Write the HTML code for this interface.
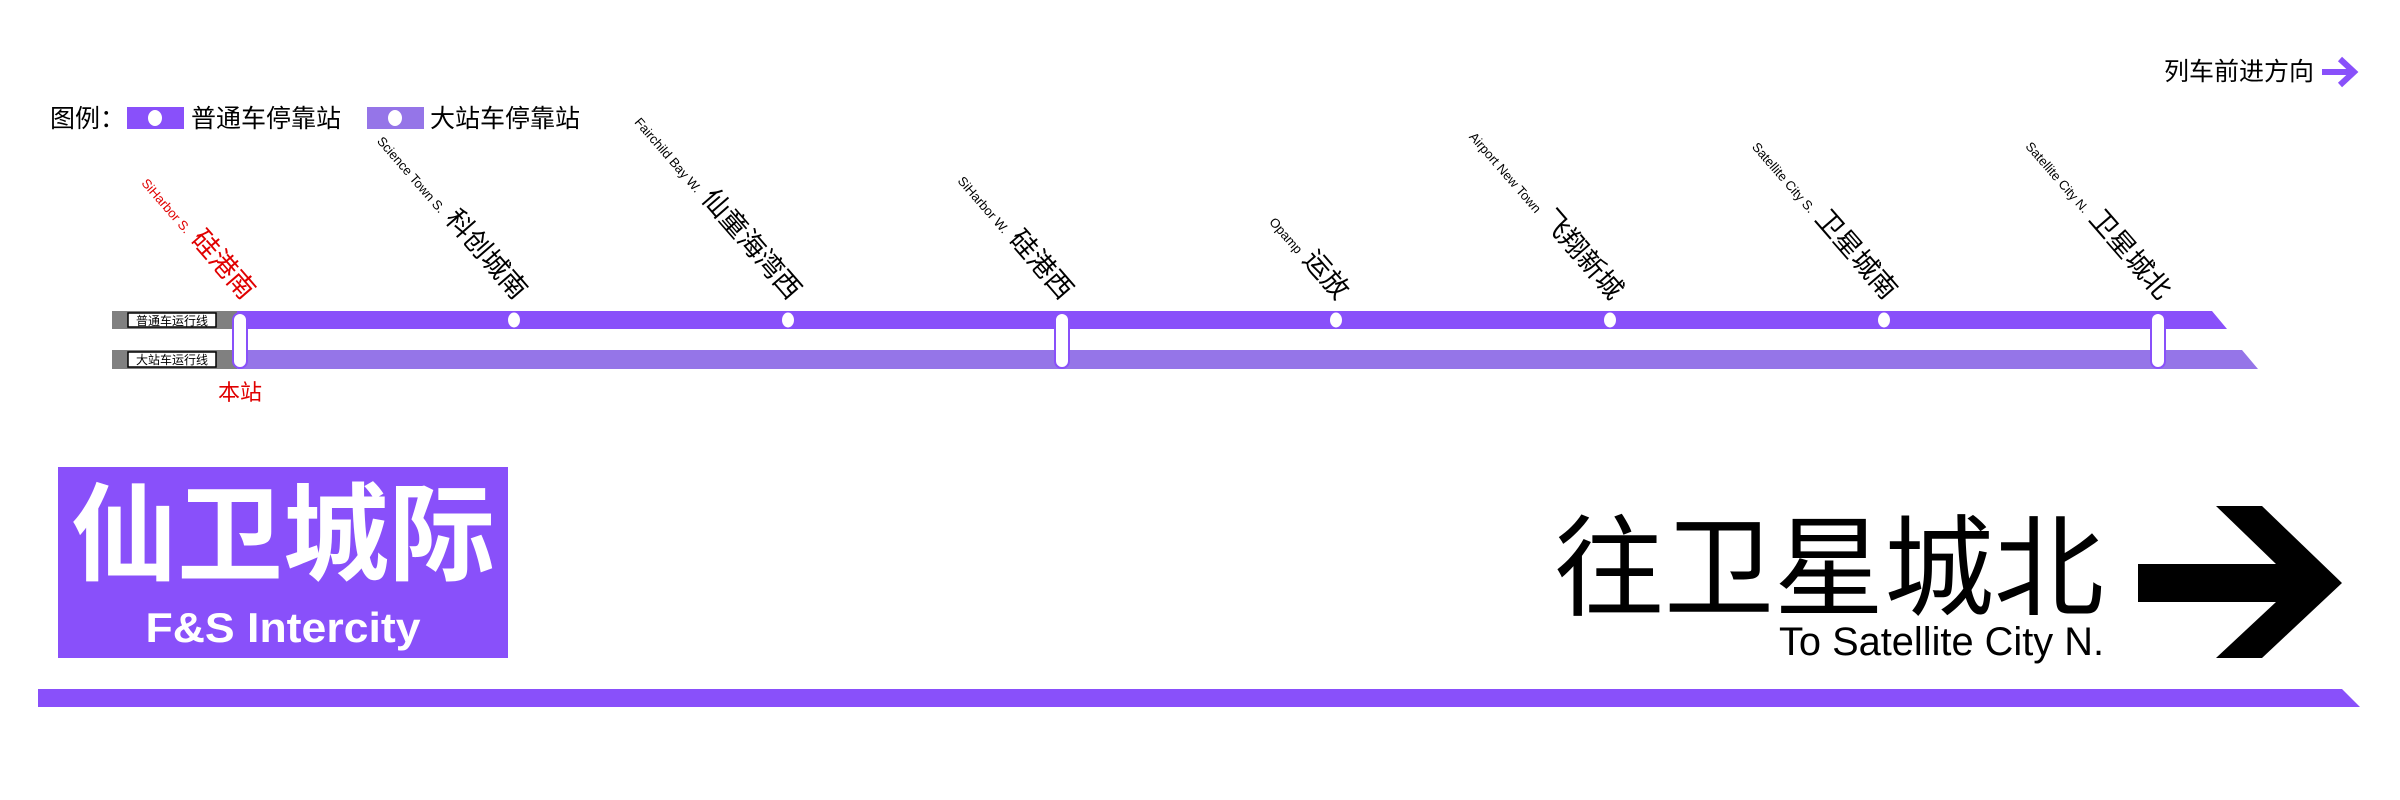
<!DOCTYPE html>
<html><head><meta charset="utf-8"><style>
html,body{margin:0;padding:0;background:#fff;}
body{width:2400px;height:800px;position:relative;overflow:hidden;font-family:"Liberation Sans","Noto Sans CJK SC",sans-serif;}
</style></head><body>
<svg width="2400" height="800" viewBox="0 0 2400 800" xmlns="http://www.w3.org/2000/svg" style="position:absolute;left:0;top:0" font-family="Liberation Sans, Noto Sans CJK SC, sans-serif">
<text x="2314" y="80" font-size="25" text-anchor="end" fill="#000">列车前进方向</text>
<path d="M2322 72 H2352 M2340 59 L2354 72 L2340 85" stroke="#8950fa" stroke-width="6" fill="none"/>
<text x="50" y="127" font-size="25" fill="#000">图例：</text>
<rect x="127" y="107" width="57" height="22" fill="#8950fa"/>
<ellipse cx="155" cy="118" rx="7" ry="8" fill="#fff"/>
<text x="191" y="127" font-size="25" fill="#000">普通车停靠站</text>
<rect x="367" y="107" width="57" height="22" fill="#9575e8"/>
<ellipse cx="395" cy="118" rx="7" ry="8" fill="#fff"/>
<text x="430" y="127" font-size="25" fill="#000">大站车停靠站</text>
<rect x="112" y="311" width="126" height="18" fill="#808080"/>
<rect x="112" y="350" width="126" height="19" fill="#808080"/>
<polygon points="237,311 2212,311 2227,329 237,329" fill="#8950fa"/>
<polygon points="237,350 2242,350 2258,369 237,369" fill="#9575e8"/>
<rect x="128" y="313" width="88" height="14" fill="#fff" stroke="#000" stroke-width="1.5"/>
<text x="172" y="325" font-size="12" text-anchor="middle" fill="#000">普通车运行线</text>
<rect x="128" y="352" width="88" height="15" fill="#fff" stroke="#000" stroke-width="1.5"/>
<text x="172" y="364" font-size="12" text-anchor="middle" fill="#000">大站车运行线</text>
<g fill="#fff" stroke="#8950fa" stroke-width="2">
<rect x="233" y="313" width="14" height="55" rx="7"/>
<rect x="1055" y="313" width="14" height="55" rx="7"/>
<rect x="2151" y="313" width="14" height="55" rx="7"/>
</g>
<g fill="#fff">
<ellipse cx="514" cy="320" rx="6" ry="7.5"/>
<ellipse cx="788" cy="320" rx="6" ry="7.5"/>
<ellipse cx="1336" cy="320" rx="6" ry="7.5"/>
<ellipse cx="1610" cy="320" rx="6" ry="7.5"/>
<ellipse cx="1884" cy="320" rx="6" ry="7.5"/>
</g>
<text x="240" y="400" font-size="22" text-anchor="middle" fill="#e00000">本站</text>
<g font-size="27" text-anchor="end">
<text transform="translate(243,301) rotate(49)" fill="#e00000"><tspan font-size="13">SiHarbor S.</tspan>  硅港南</text>
<text transform="translate(515,301) rotate(49)" fill="#000"><tspan font-size="13">Science Town S.</tspan>  科创城南</text>
<text transform="translate(789,301) rotate(49)" fill="#000"><tspan font-size="13">Fairchild Bay W.</tspan>  仙童海湾西</text>
<text transform="translate(1061,301) rotate(49)" fill="#000"><tspan font-size="13">SiHarbor W.</tspan>  硅港西</text>
<text transform="translate(1337,301) rotate(49)" fill="#000"><tspan font-size="13">Opamp</tspan>  运放</text>
<text transform="translate(1611,301) rotate(49)" fill="#000"><tspan font-size="13">Airport New Town</tspan>  飞翔新城</text>
<text transform="translate(1885,301) rotate(49)" fill="#000"><tspan font-size="13">Satellite City S.</tspan>  卫星城南</text>
<text transform="translate(2159,301) rotate(49)" fill="#000"><tspan font-size="13">Satellite City N.</tspan>  卫星城北</text>
</g>
<rect x="58" y="467" width="450" height="191" fill="#8950fa"/>
<text x="283" y="572" font-size="106" font-weight="bold" text-anchor="middle" fill="#fff">仙卫城际</text>
<text x="283" y="642" font-size="42" font-weight="bold" text-anchor="middle" fill="#fff" textLength="275" lengthAdjust="spacingAndGlyphs">F&amp;S Intercity</text>
<text x="2104" y="607" font-size="110" text-anchor="end" fill="#000">往卫星城北</text>
<text x="2104" y="655" font-size="40" text-anchor="end" fill="#000" textLength="325" lengthAdjust="spacingAndGlyphs">To Satellite City N.</text>
<polygon points="2138,564 2276,564 2216,506 2262,506 2342,583 2262,658 2216,658 2276,602 2138,602" fill="#000"/>
<polygon points="38,689 2342,689 2360,707 38,707" fill="#8950fa"/>
</svg>
</body></html>
